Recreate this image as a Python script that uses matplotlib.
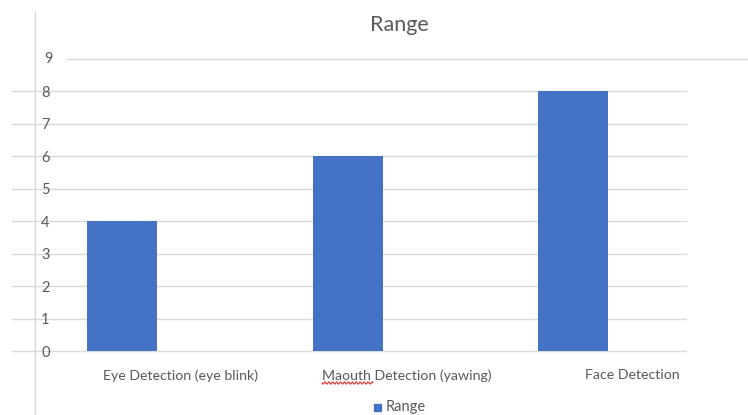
import numpy as np
import matplotlib
matplotlib.use("Agg")
import matplotlib.pyplot as plt
from matplotlib.lines import Line2D
from matplotlib.patches import Rectangle

categories = ["Eye Detection (eye blink)", "Maouth Detection (yawing)", "Face Detection"]
values = [4, 6, 8]
y_ticks = [0, 1, 2, 3, 4, 5, 6, 7, 8]
series_name = "Range"

W, H = 748, 415
fig = plt.figure(figsize=(W / 100, H / 100), dpi=100)
plt.rcParams['font.family'] = ['Lato', 'DejaVu Sans']

L, R, T, B = 62, 686, 59, 351
ax = fig.add_axes([L / W, (H - B) / H, (R - L) / W, (B - T) / H])
bar_color = "#4472C4"
grid_c = "#D9D9D9"
txt_c = "#595959"

x = np.arange(len(categories))
ax.bar(x, values, width=0.31, color=bar_color, zorder=3)
ax.set_xlim(-0.266, 2.499)
ax.set_ylim(0, 9)

for s in ax.spines.values():
    s.set_visible(False)
ax.tick_params(length=0)
ax.set_yticks(y_ticks)
ax.set_yticklabels([str(v) for v in y_ticks], color=txt_c, fontsize=10.5)
ax.tick_params(axis='y', pad=9)
ax.set_xticks(x + 0.26)
ax.set_xticklabels(categories, color=txt_c, fontsize=10.2)
ax.tick_params(axis='x', pad=13)

# gridlines extending to the left (overlapping window look)
xl = (12 - L) / (R - L)
for v in y_ticks:
    ax.plot([xl, 1], [v, v], transform=ax.get_yaxis_transform(), color=grid_c,
            lw=1, clip_on=False, zorder=1)
# top line (9) extended to the right
ax.plot([(67 - L) / (R - L), (748 - L) / (R - L)], [9, 9], transform=ax.get_yaxis_transform(),
        color=grid_c, lw=1, clip_on=False, zorder=1)
fig.text(48 / W, (H - 59) / H, "9", color=txt_c, fontsize=10.5, ha='center', va='center')

# vertical border line
fig.add_artist(Line2D([35 / W, 35 / W], [0, (H - 12) / H], color=grid_c, lw=1))

fig.text(399 / W, (H - 25) / H, "Range", fontsize=15.5, color=txt_c, ha='center', va='center')

# legend
fig.add_artist(Rectangle((374 / W, (H - 411) / H), 7 / W, 7 / H, color=bar_color,
                         transform=fig.transFigure))
fig.text(386 / W, (H - 407) / H, series_name, fontsize=10.5, color=txt_c, ha='left', va='center')

# spell-check squiggle under "Maouth"
sx = np.linspace(322, 373, 60)
sy = 383 + 1.2 * np.sin((sx - 322) * 1.6)
fig.add_artist(Line2D(sx / W, (H - sy) / H, color="#E0302A", lw=0.8))

fig.savefig("out.png", dpi=100)
